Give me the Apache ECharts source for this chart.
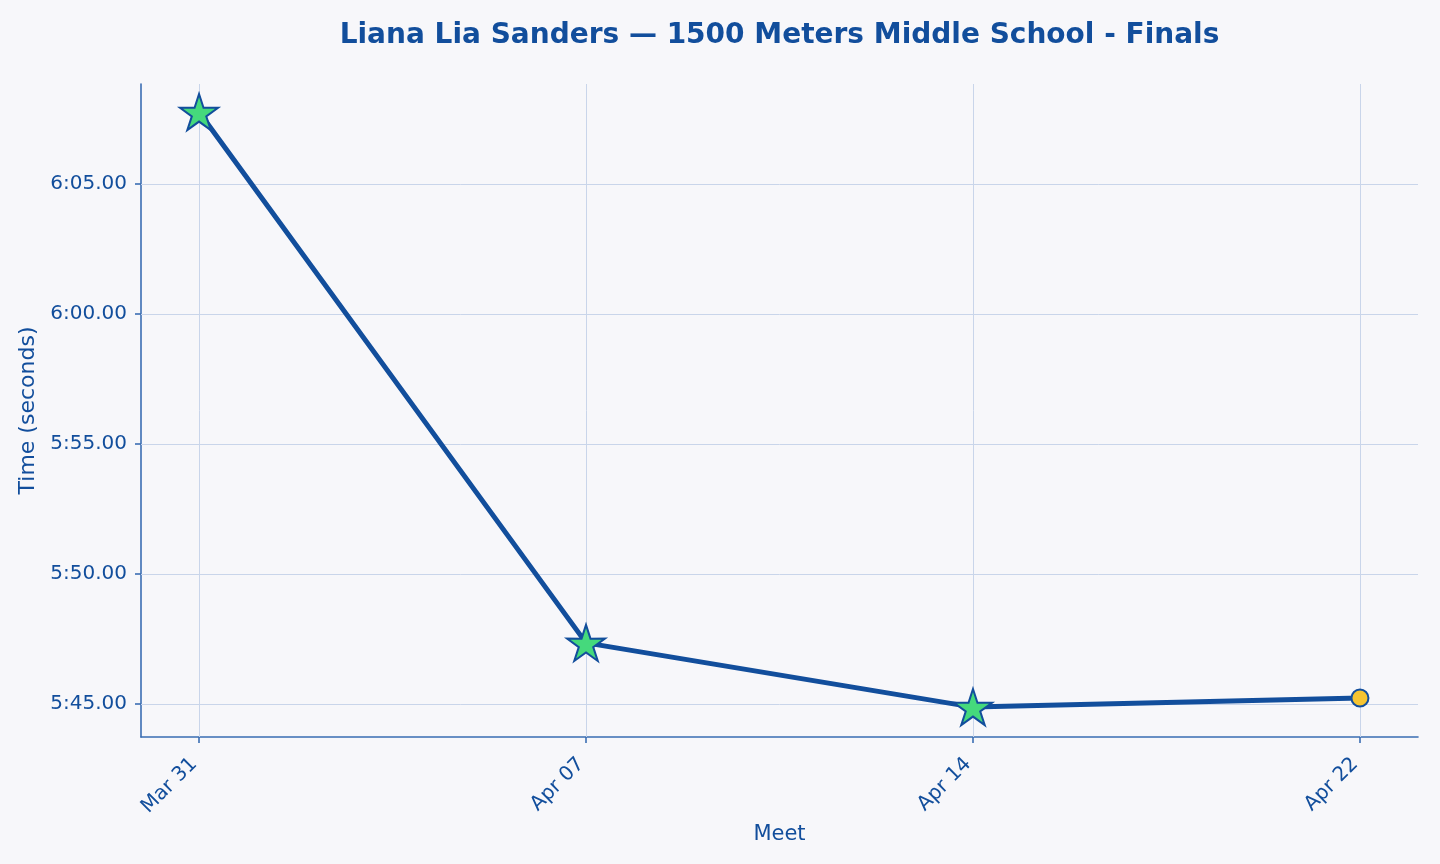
<!DOCTYPE html>
<html>
<head>
<meta charset="utf-8">
<script src="https://cdn.jsdelivr.net/npm/echarts@6/dist/echarts.min.js"></script>
<style>
  html, body { margin: 0; padding: 0; background: #f7f7fa; }
  #chart { width: 1440px; height: 864px; }
</style>
</head>
<body>
<div id="chart"></div>
<script>
// meets and finishing times (seconds)
const meets = ['Mar 31', 'Apr 07', 'Apr 14', 'Apr 22']
const times = [367.77, 347.35, 344.88, 345.23]
const isPR = [true, true, true, false]
const yTicks = [345, 350, 355, 360, 365]

const mainBlue = '#124e9c'
const axisBlue = '#3a6db3'
const gridColor = '#c9d5ea'
const starPath = 'path://M50,0 L61.17,34.63 L97.55,34.55 L68.07,55.87 L79.39,90.45 L50,69 L20.61,90.45 L31.93,55.87 L2.45,34.55 L38.83,34.63 Z'

const fmtTime = v => {
  const m = Math.floor(v / 60)
  const s = v - m * 60
  return m + ':' + (s < 10 ? '0' : '') + s.toFixed(2)
}

const chart = echarts.init(document.getElementById('chart'))

const points = times.map((t, i) => ({
  value: [i, t],
  symbol: isPR[i] ? starPath : 'circle',
  symbolSize: isPR[i] ? 38 : 17,
  symbolKeepAspect: true,
  itemStyle: {
    color: isPR[i] ? '#45d97c' : '#f6c431',
    borderColor: mainBlue,
    borderWidth: 2
  }
}))

// gridlines at the category and tick positions
const gridLines = [
  ...meets.map((m, i) => ({ xAxis: i })),
  ...yTicks.map(v => ({ yAxis: v }))
]

chart.setOption({
  backgroundColor: '#f7f7fa',
  textStyle: { fontFamily: 'DejaVu Sans' },
  title: {
    text: 'Liana Lia Sanders — 1500 Meters Middle School - Finals',
    left: 774.5,
    textAlign: 'center',
    top: 17,
    textStyle: { fontSize: 28, fontWeight: 'bold', color: mainBlue, fontFamily: 'DejaVu Sans' }
  },
  grid: { left: 141, right: 22, top: 84, bottom: 127 },
  xAxis: {
    type: 'value',
    min: -0.15,
    max: 3.15,
    name: 'Meet',
    nameLocation: 'middle',
    nameGap: 83,
    nameTextStyle: { fontSize: 21, color: mainBlue },
    axisLine: { show: true, onZero: false, lineStyle: { color: axisBlue, width: 1.6 } },
    axisTick: { show: true, customValues: [0, 1, 2, 3], length: 6, lineStyle: { color: axisBlue, width: 1.6 } },
    axisLabel: {
      customValues: [0, 1, 2, 3],
      formatter: v => meets[Math.round(v)],
      rotate: 45,
      margin: 19,
      padding: [0, 7, 0, 0],
      fontSize: 20,
      color: mainBlue
    },
    splitLine: { show: false }
  },
  yAxis: {
    type: 'value',
    min: 343.73,
    max: 368.85,
    name: 'Time (seconds)',
    nameLocation: 'middle',
    nameGap: 98,
    nameTextStyle: { fontSize: 22, color: mainBlue },
    axisLine: { show: true, onZero: false, lineStyle: { color: axisBlue, width: 1.6 } },
    axisTick: { show: true, customValues: yTicks, length: 6, lineStyle: { color: axisBlue, width: 1.6 } },
    axisLabel: {
      customValues: yTicks,
      formatter: v => fmtTime(v),
      margin: 14,
      fontSize: 20,
      color: mainBlue
    },
    splitLine: { show: false }
  },
  series: [
    {
      type: 'line',
      data: [],
      z: 1,
      silent: true,
      markLine: {
        z: 1,
        silent: true,
        symbol: 'none',
        label: { show: false },
        lineStyle: { color: gridColor, width: 1, type: 'solid' },
        emphasis: { disabled: true },
        animation: false,
        data: gridLines
      }
    },
    {
      type: 'line',
      z: 3,
      data: points,
      lineStyle: { color: mainBlue, width: 5 },
      animation: false
    }
  ]
})
</script>
</body>
</html>
